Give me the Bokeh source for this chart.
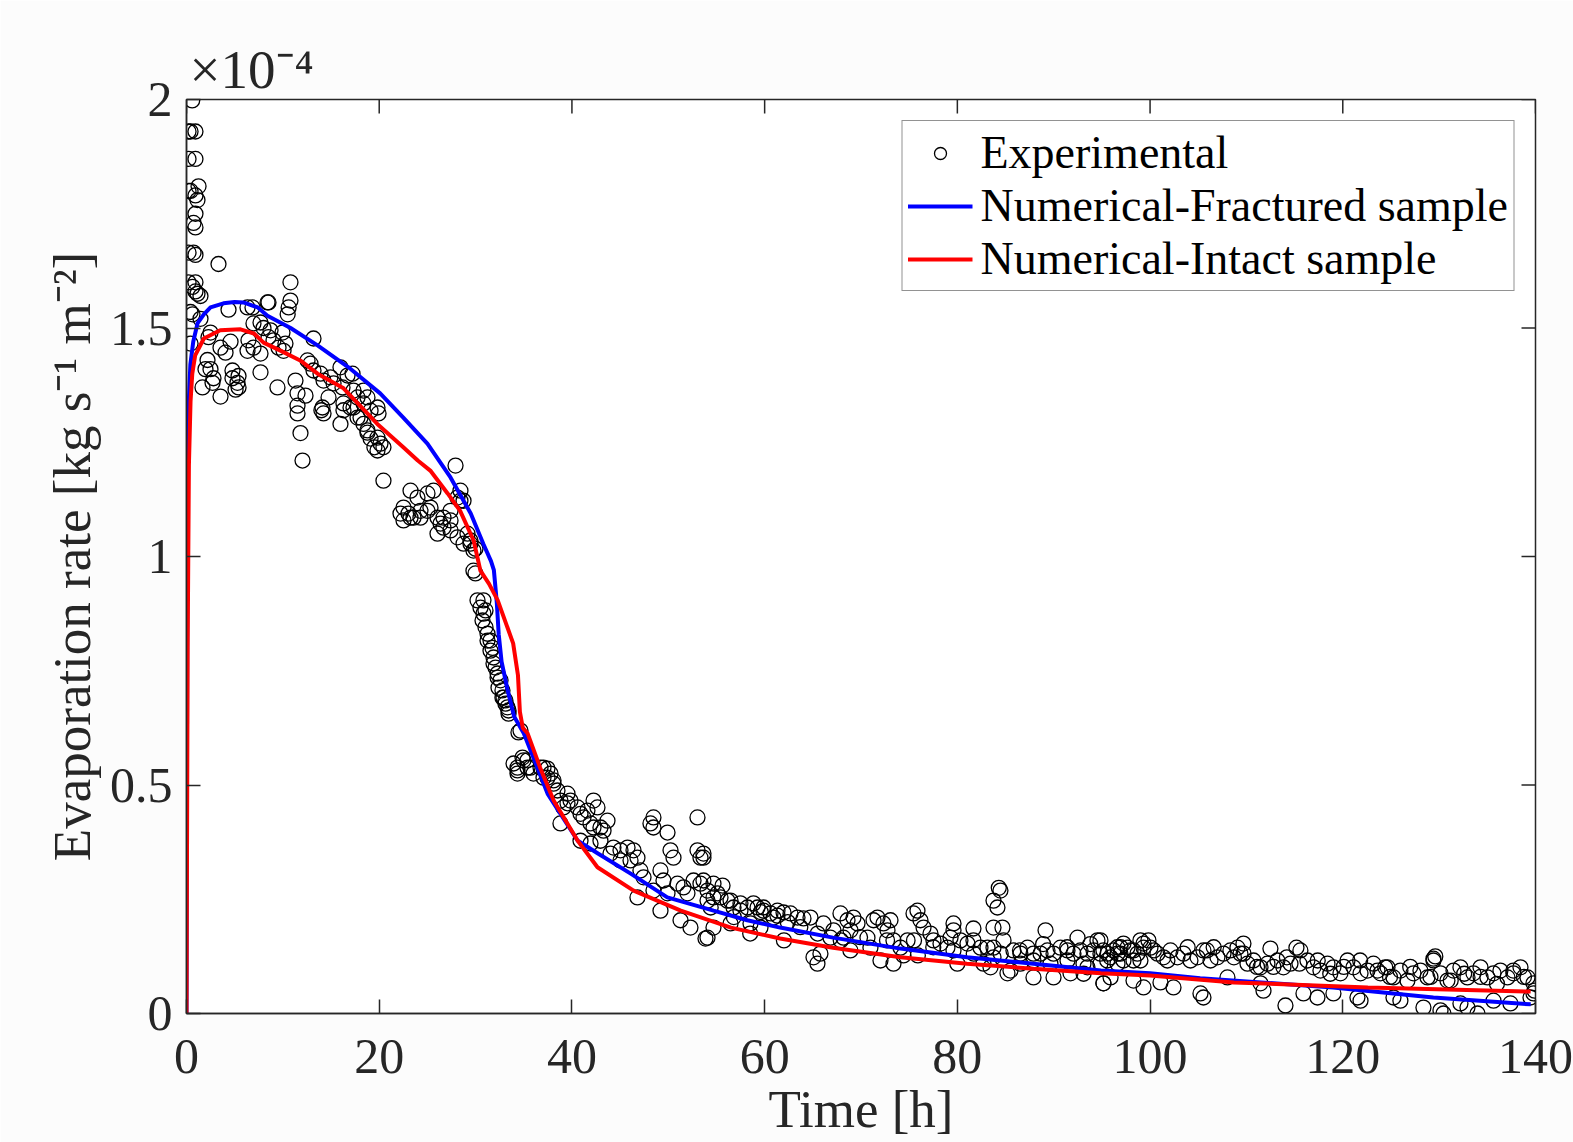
import math
from bokeh.plotting import figure
from bokeh.models import Range1d, Legend, LegendItem, FixedTicker
from bokeh.embed import file_html
from bokeh.resources import INLINE

# ---------------- data (rate in units of 1e-4 kg s^-1 m^-2) ----------------
exp_points = [
    (0.59, 1.998), (0.21, 1.93), (0.42, 1.93), (0.93, 1.93), (0.21, 1.87), (0.93, 1.87),
    (1.25, 1.81), (0.21, 1.80), (0.42, 1.80), (0.93, 1.79), (1.14, 1.78), (0.93, 1.75),
    (0.73, 1.73), (0.93, 1.72), (3.32, 1.64), (0.21, 1.665), (0.73, 1.665), (0.93, 1.66),
    (0.21, 1.60), (0.93, 1.60), (0.93, 1.58), (1.45, 1.57), (0.62, 1.59), (1.14, 1.575),
    (0.42, 1.535), (0.62, 1.53), (1.45, 1.52), (0.42, 1.466), (2.28, 1.48),
    (4.36, 1.54), (6.33, 1.545), (6.85, 1.545), (8.41, 1.556), (8.51, 1.556),
    (10.79, 1.60), (10.79, 1.56), (10.6, 1.545), (10.5, 1.53),
    (2.49, 1.49), (4.57, 1.47), (3.53, 1.457), (4.05, 1.446),
    (2.18, 1.43), (1.97, 1.41), (2.49, 1.41), (2.80, 1.39), (1.66, 1.37), (2.70, 1.38), (3.53, 1.35),
    (4.77, 1.39), (5.29, 1.38), (5.40, 1.395), (4.77, 1.407), (5.09, 1.365), (5.40, 1.37),
    (6.33, 1.45), (6.95, 1.457), (7.68, 1.444), (6.43, 1.473), (6.95, 1.51), (7.68, 1.512),
    (7.99, 1.50), (8.72, 1.495), (8.51, 1.48), (9.03, 1.473), (9.55, 1.457), (10.07, 1.45),
    (10.27, 1.466), (9.96, 1.49), (7.68, 1.403), (9.44, 1.37), (13.18, 1.477), (11.31, 1.385),
    (11.52, 1.357), (12.35, 1.352), (11.52, 1.33), (11.52, 1.313), (11.83, 1.27), (12.04, 1.21),
    (12.56, 1.429), (12.87, 1.422), (13.18, 1.407), (13.91, 1.40), (14.22, 1.385), (14.94, 1.392),
    (15.26, 1.379), (14.74, 1.348), (14.11, 1.326), (14.22, 1.313),
    (15.98, 1.414), (16.71, 1.396), (17.23, 1.40), (16.19, 1.37), (17.33, 1.363), (17.75, 1.348),
    (18.37, 1.363), (18.78, 1.348), (16.29, 1.335), (17.02, 1.326), (18.37, 1.335), (19.10, 1.319),
    (19.82, 1.326), (19.93, 1.313), (17.75, 1.304), (18.37, 1.29), (15.98, 1.29), (18.78, 1.271),
    (19.10, 1.258), (19.82, 1.26), (20.13, 1.247), (19.82, 1.232), (20.44, 1.239),
    (20.44, 1.166), (27.92, 1.199),
    (23.25, 1.144), (23.97, 1.129), (25.01, 1.138), (25.63, 1.144), (22.52, 1.107), (23.04, 1.094),
    (23.56, 1.085), (24.28, 1.10), (25.32, 1.107), (26.05, 1.085), (26.36, 1.072), (26.67, 1.063),
    (27.40, 1.079), (28.12, 1.129), (28.43, 1.144), (28.75, 1.122), (26.05, 1.05), (27.40, 1.057),
    (28.12, 1.042), (28.75, 1.028), (29.47, 1.035), (29.99, 1.017),
    (14.0, 1.32), (16.29, 1.32), (17.33, 1.326), (18.06, 1.304), (18.78, 1.276), (19.5, 1.239),
    (22.21, 1.094), (22.52, 1.079), (23.25, 1.085), (24.28, 1.085), (25.01, 1.10), (26.67, 1.085),
    (27.40, 1.10), (28.43, 1.122), (29.16, 1.05), (29.47, 1.028), (29.78, 1.013), (29.78, 0.969),
    (29.99, 0.963),
    (30.20, 0.904), (30.51, 0.888), (30.82, 0.875), (30.72, 0.86), (31.03, 0.845), (31.24, 0.831),
    (31.55, 0.816), (31.76, 0.80), (31.86, 0.779), (32.07, 0.757), (32.28, 0.744), (32.59, 0.729),
    (32.79, 0.707), (32.90, 0.691), (33.10, 0.685), (33.31, 0.67), (33.42, 0.656), (34.66, 0.619),
    (33.94, 0.547), (34.35, 0.532), (34.97, 0.554), (35.39, 0.538), (36.01, 0.525), (37.05, 0.538),
    (37.78, 0.525), (38.09, 0.503), (37.46, 0.516), (39.54, 0.481), (42.24, 0.466),
    (30.82, 0.904), (31.03, 0.882), (31.24, 0.816), (31.55, 0.794), (31.86, 0.766), (32.28, 0.735),
    (32.38, 0.713), (32.79, 0.691), (33.10, 0.678), (33.42, 0.663), (34.45, 0.615),
    (34.35, 0.538), (34.87, 0.56), (35.39, 0.554), (35.70, 0.538), (36.74, 0.538), (37.46, 0.536),
    (38.09, 0.51), (37.05, 0.516), (34.35, 0.525),
    (38.50, 0.488), (38.81, 0.466), (39.12, 0.451), (39.54, 0.46), (39.85, 0.466), (40.58, 0.451),
    (40.89, 0.437), (41.20, 0.429), (41.61, 0.444), (42.65, 0.451), (41.93, 0.416), (42.24, 0.407),
    (42.96, 0.407), (43.69, 0.422), (43.28, 0.40), (38.81, 0.416),
    (48.46, 0.429), (48.15, 0.416), (48.46, 0.407), (49.92, 0.396), (53.03, 0.429),
    (40.89, 0.378), (41.93, 0.372), (42.96, 0.378),
    (44.31, 0.363), (45.04, 0.357), (45.77, 0.363), (46.39, 0.357), (46.80, 0.341), (46.08, 0.335),
    (45.04, 0.335), (44.00, 0.35), (50.23, 0.357), (50.54, 0.341), (53.03, 0.357), (53.34, 0.341),
    (47.11, 0.313), (47.43, 0.298), (46.80, 0.254), (49.19, 0.313), (49.50, 0.291), (48.46, 0.269),
    (49.19, 0.225), (49.92, 0.263), (50.95, 0.284), (51.58, 0.276), (51.99, 0.263), (52.62, 0.291),
    (53.34, 0.284), (54.07, 0.269), (54.69, 0.284), (55.11, 0.263), (51.27, 0.204), (52.30, 0.188),
    (54.07, 0.166), (55.42, 0.254), (56.46, 0.247), (57.49, 0.241), (58.22, 0.232), (58.84, 0.241),
    (59.88, 0.232), (60.61, 0.219), (60.92, 0.21), (61.33, 0.225),
    (53.65, 0.35), (53.65, 0.341), (53.65, 0.291), (55.63, 0.28),
    (54.07, 0.247), (54.69, 0.254), (56.14, 0.247), (56.77, 0.232), (57.49, 0.225), (59.26, 0.232),
    (59.88, 0.225), (61.33, 0.214), (61.96, 0.221), (62.68, 0.219), (63.41, 0.21), (64.03, 0.208),
    (64.76, 0.21), (53.86, 0.164), (54.69, 0.188), (56.46, 0.197), (58.53, 0.197), (59.57, 0.188),
    (65.07, 0.123), (65.48, 0.109), (65.79, 0.131),
    (66.11, 0.197), (67.14, 0.182), (67.87, 0.219), (68.60, 0.204), (69.22, 0.21), (69.64, 0.197),
    (68.91, 0.182), (68.18, 0.166), (66.83, 0.166),
    (70.67, 0.166), (70.98, 0.144), (71.30, 0.204), (71.71, 0.21), (72.33, 0.197), (73.06, 0.204),
    (72.75, 0.182), (73.37, 0.16), (74.10, 0.144), (74.83, 0.16), (72.02, 0.116), (73.37, 0.109),
    (74.41, 0.127),
    (75.45, 0.219), (75.86, 0.225), (76.17, 0.204), (76.49, 0.188), (77.21, 0.175), (77.52, 0.16),
    (78.25, 0.153), (78.97, 0.144), (79.60, 0.197), (79.60, 0.182), (79.29, 0.166), (80.32, 0.16),
    (81.05, 0.153), (81.67, 0.16), (82.40, 0.144), (83.13, 0.144), (83.75, 0.144), (81.67, 0.186),
    (82.71, 0.109), (83.44, 0.101), (83.75, 0.123),
    (83.75, 0.247), (84.16, 0.232), (84.47, 0.269), (84.3, 0.275), (83.75, 0.188), (84.68, 0.188),
    (84.79, 0.16), (85.20, 0.088), (85.51, 0.094),
    (85.82, 0.138), (86.55, 0.131), (87.28, 0.144), (87.90, 0.131), (88.63, 0.131), (89.35, 0.138),
    (89.98, 0.131), (90.70, 0.144), (91.43, 0.138), (92.05, 0.131), (92.78, 0.138), (93.50, 0.131),
    (94.13, 0.138), (94.85, 0.131), (95.58, 0.131), (96.20, 0.138), (96.93, 0.131), (97.65, 0.144),
    (98.28, 0.138), (99.32, 0.144), (99.83, 0.16), (89.15, 0.182),
    (92.47, 0.166), (94.54, 0.16), (97.24, 0.153),
    (87.90, 0.079), (89.98, 0.079), (91.74, 0.088), (95.16, 0.066), (98.28, 0.072), (93.50, 0.101),
    (86.55, 0.109), (87.90, 0.116), (89.66, 0.109), (91.43, 0.116), (93.09, 0.109), (94.85, 0.109),
    (96.62, 0.109), (98.28, 0.116),
    (54.4, 0.232), (56.8, 0.211), (59.6, 0.222), (62.4, 0.20), (63.7, 0.189), (65.5, 0.175),
    (67.9, 0.16), (69.9, 0.167), (72.7, 0.16), (75.5, 0.16), (77.5, 0.145), (79.6, 0.138),
    (81.7, 0.131), (84.5, 0.131), (86.5, 0.138), (88.9, 0.152), (91.4, 0.145), (93.8, 0.152),
    (96.6, 0.145), (99.0, 0.16), (58.5, 0.175), (62.0, 0.16), (68.9, 0.138), (75.9, 0.127),
    (80.0, 0.109), (93.1, 0.087), (95.9, 0.079),
    (94.85, 0.16), (95.16, 0.138), (95.89, 0.123), (96.62, 0.131), (97.24, 0.116), (97.97, 0.138),
    (98.69, 0.131), (99.32, 0.153), (100.04, 0.144), (100.77, 0.131), (101.39, 0.123), (102.12, 0.138),
    (102.84, 0.123), (103.47, 0.131), (104.19, 0.116), (104.92, 0.123), (105.54, 0.138), (106.27, 0.116),
    (106.99, 0.123), (107.62, 0.131), (108.34, 0.138), (109.07, 0.144), (109.69, 0.153), (109.38, 0.131),
    (110.11, 0.109), (110.73, 0.116), (111.46, 0.101), (112.18, 0.109), (112.49, 0.142), (113.22, 0.116),
    (113.84, 0.101), (114.57, 0.109), (115.19, 0.144), (115.50, 0.109), (116.33, 0.116), (116.96, 0.101),
    (117.68, 0.094), (118.41, 0.109), (119.03, 0.101), (119.76, 0.088), (120.49, 0.116), (121.11, 0.101),
    (121.84, 0.088), (122.56, 0.094), (123.18, 0.109), (123.91, 0.088), (124.64, 0.101), (125.26, 0.079),
    (125.98, 0.094), (126.71, 0.072), (127.33, 0.088), (128.06, 0.094), (128.79, 0.079), (129.41, 0.116),
    (130.14, 0.088), (130.86, 0.072), (131.49, 0.094), (132.21, 0.101), (132.94, 0.079), (133.56, 0.088),
    (134.29, 0.101), (135.01, 0.079), (135.64, 0.088), (136.36, 0.094), (137.09, 0.079), (137.71, 0.088),
    (138.44, 0.101), (139.17, 0.079), (139.79, 0.066), (139.9, 0.05),
    (95.55, 0.116), (96.93, 0.145), (99.0, 0.116), (100.4, 0.138), (101.8, 0.116), (103.9, 0.145),
    (105.9, 0.138), (106.6, 0.145), (108.7, 0.123), (109.7, 0.131), (111.1, 0.102), (112.8, 0.102),
    (114.2, 0.123), (115.6, 0.138), (117.4, 0.116), (118.7, 0.087), (120.1, 0.102), (121.8, 0.116),
    (123.6, 0.094), (124.9, 0.080), (127.0, 0.102), (129.1, 0.080), (131.2, 0.072), (132.6, 0.087),
    (134.3, 0.080), (136.0, 0.065), (137.7, 0.094), (138.8, 0.080),
    (95.16, 0.066), (99.32, 0.057), (101.08, 0.068), (102.43, 0.057), (105.23, 0.044), (105.54, 0.035),
    (108.03, 0.079), (111.46, 0.066), (111.77, 0.05), (114.05, 0.0175), (115.92, 0.044), (117.37, 0.035),
    (119.03, 0.044), (121.52, 0.035), (121.84, 0.028), (125.26, 0.035), (125.98, 0.028), (128.37, 0.013),
    (130.14, 0.007), (130.45, 0.0), (132.21, 0.022), (132.94, 0.013), (133.98, 0.0), (135.64, 0.028),
    (137.40, 0.022), (139.48, 0.035), (139.79, 0.044), (129.41, 0.12), (129.6, 0.125), (124.4, 0.101),
]
exp_time = [pt[0] for pt in exp_points]
exp_rate = [pt[1] for pt in exp_points]

frac_time = [0, 0.08, 0.15, 0.24, 0.4, 0.7, 1.14, 1.8, 2.49, 3.84, 5.0, 5.9, 7.4, 8.4, 10.8,
             13.6, 17.0, 20.1, 22.5, 25.0, 27.4, 29.5, 30.8, 31.6, 31.9, 32.2, 32.4, 32.7, 33.3,
             34.0, 35.0, 36.0, 37.5, 38.8, 40.6, 42.7, 46.1, 49.9, 54.7, 58.2, 61.6, 67.1, 74.1,
             81.0, 87.9, 94.9, 100.0, 105.2, 119.0, 129.4, 139.5]
frac_rate = [0, 0.9, 1.2, 1.34, 1.42, 1.47, 1.51, 1.53, 1.545, 1.554, 1.557, 1.556, 1.545, 1.527,
             1.50, 1.462, 1.411, 1.357, 1.304, 1.247, 1.173, 1.094, 1.028, 0.99, 0.97, 0.90, 0.83,
             0.77, 0.71, 0.65, 0.613, 0.56, 0.48, 0.437, 0.378, 0.35, 0.306, 0.254, 0.225, 0.204,
             0.188, 0.166, 0.142, 0.123, 0.109, 0.094, 0.088, 0.077, 0.057, 0.035, 0.02]

intact_time = [0, 0.12, 0.25, 0.42, 0.6, 0.9, 1.8, 3.5, 5.6, 7.0, 8.0, 9.8, 11.8, 13.6, 16.3,
               19.8, 22.5, 24.0, 25.3, 27.1, 28.4, 29.8, 30.5, 31.4, 32.3, 33.9, 34.4, 34.6, 34.9,
               35.4, 36.7, 38.1, 40.6, 42.65, 46.4, 51.3, 56.5, 61.6, 67.1, 74.1, 81.0, 87.9, 94.9,
               100.0, 108.7, 122.6, 139.5]
intact_rate = [0, 0.8, 1.2, 1.34, 1.40, 1.44, 1.477, 1.495, 1.497, 1.488, 1.468, 1.45, 1.429, 1.40,
               1.368, 1.29, 1.239, 1.21, 1.188, 1.138, 1.10, 1.035, 0.969, 0.94, 0.904, 0.81, 0.74,
               0.66, 0.625, 0.613, 0.538, 0.466, 0.378, 0.32, 0.269, 0.225, 0.188, 0.164, 0.144,
               0.123, 0.109, 0.098, 0.088, 0.083, 0.068, 0.057, 0.048]

x_ticks = [0, 20, 40, 60, 80, 100, 120, 140]
y_ticks = [0, 0.5, 1, 1.5, 2]
y_tick_labels = ["0", "0.5", "1", "1.5", "2"]

FONT = "Liberation Serif"
INK = "#262626"
X0, X1, Y0, Y1 = 0, 140, 0, 2
W, H = 1573, 1142
FL, FR, FT, FB = 186, 1535, 99, 1013   # frame edges in page pixels

p = figure(width=W, height=H, x_range=Range1d(X0, X1), y_range=Range1d(Y0, Y1),
           output_backend="svg", toolbar_location=None,
           min_border_left=FL, min_border_right=W - FR,
           min_border_top=FT, min_border_bottom=H - FB)
p.border_fill_color = "#fcfcfc"
p.background_fill_color = "white"
p.outline_line_color = INK
p.outline_line_width = 1.5
p.xgrid.visible = False
p.ygrid.visible = False

# exponent (MATLAB style) as a left aligned title
p.title.text = "\u00d710\u207b\u2074"
p.title.align = "left"
p.title.offset = 3
p.title.standoff = 0
p.title.text_font = FONT
p.title.text_font_size = "55px"
p.title.text_font_style = "normal"
p.title.text_color = INK

for a in (p.xaxis[0], p.yaxis[0]):
    a.axis_line_color = INK
    a.axis_line_width = 1.5
    a.major_tick_line_color = INK
    a.major_tick_line_width = 1.5
    a.major_tick_in = 14
    a.major_tick_out = 0
    a.minor_tick_line_color = None
    a.major_label_text_font = FONT
    a.major_label_text_color = INK
    a.major_label_text_font_size = "50px"
    a.axis_label_text_font = FONT
    a.axis_label_text_font_style = "normal"
    a.axis_label_text_color = INK
    a.axis_label_text_font_size = "53px"

p.xaxis.ticker = FixedTicker(ticks=x_ticks)
p.yaxis.ticker = FixedTicker(ticks=y_ticks)
p.yaxis.major_label_overrides = {t: s for t, s in zip(y_ticks, y_tick_labels)}
p.xaxis.major_label_standoff = 26
p.yaxis.major_label_standoff = 14
p.xaxis.axis_label = "Time [h]"
p.xaxis.axis_label_standoff = 4
p.yaxis.axis_label = "Evaporation rate [kg s\u207b\u00b9 m\u207b\u00b2]"
p.yaxis.axis_label_standoff = 6

# inward ticks on the top and right edges of the box (half of each dash is clipped by the frame)
p.scatter(x_ticks, [Y1] * len(x_ticks), marker="dash", angle=math.pi / 2, size=28,
          line_color=INK, line_width=1.5)
p.scatter([X1] * len(y_ticks), y_ticks, marker="dash", size=28,
          line_color=INK, line_width=1.5)

sc = p.scatter(exp_time, exp_rate, marker="circle", size=15, fill_color=None,
               line_color="black", line_width=1.3)
bl = p.line(frac_time, frac_rate, line_color="#0000ff", line_width=4)
rl = p.line(intact_time, intact_rate, line_color="#ff0000", line_width=4)

legend = Legend(items=[LegendItem(label="Experimental", renderers=[sc]),
                       LegendItem(label="Numerical-Fractured sample", renderers=[bl]),
                       LegendItem(label="Numerical-Intact sample", renderers=[rl])],
                location="top_right", margin=21, padding=5, spacing=0,
                glyph_width=65, glyph_height=30, label_height=53, label_standoff=8,
                label_text_font=FONT, label_text_font_size="46px", label_text_color="black",
                border_line_color=INK, border_line_width=1.5,
                background_fill_color="white", background_fill_alpha=1.0)
p.add_layout(legend)

open("out.html", "w").write(file_html(p, INLINE))
